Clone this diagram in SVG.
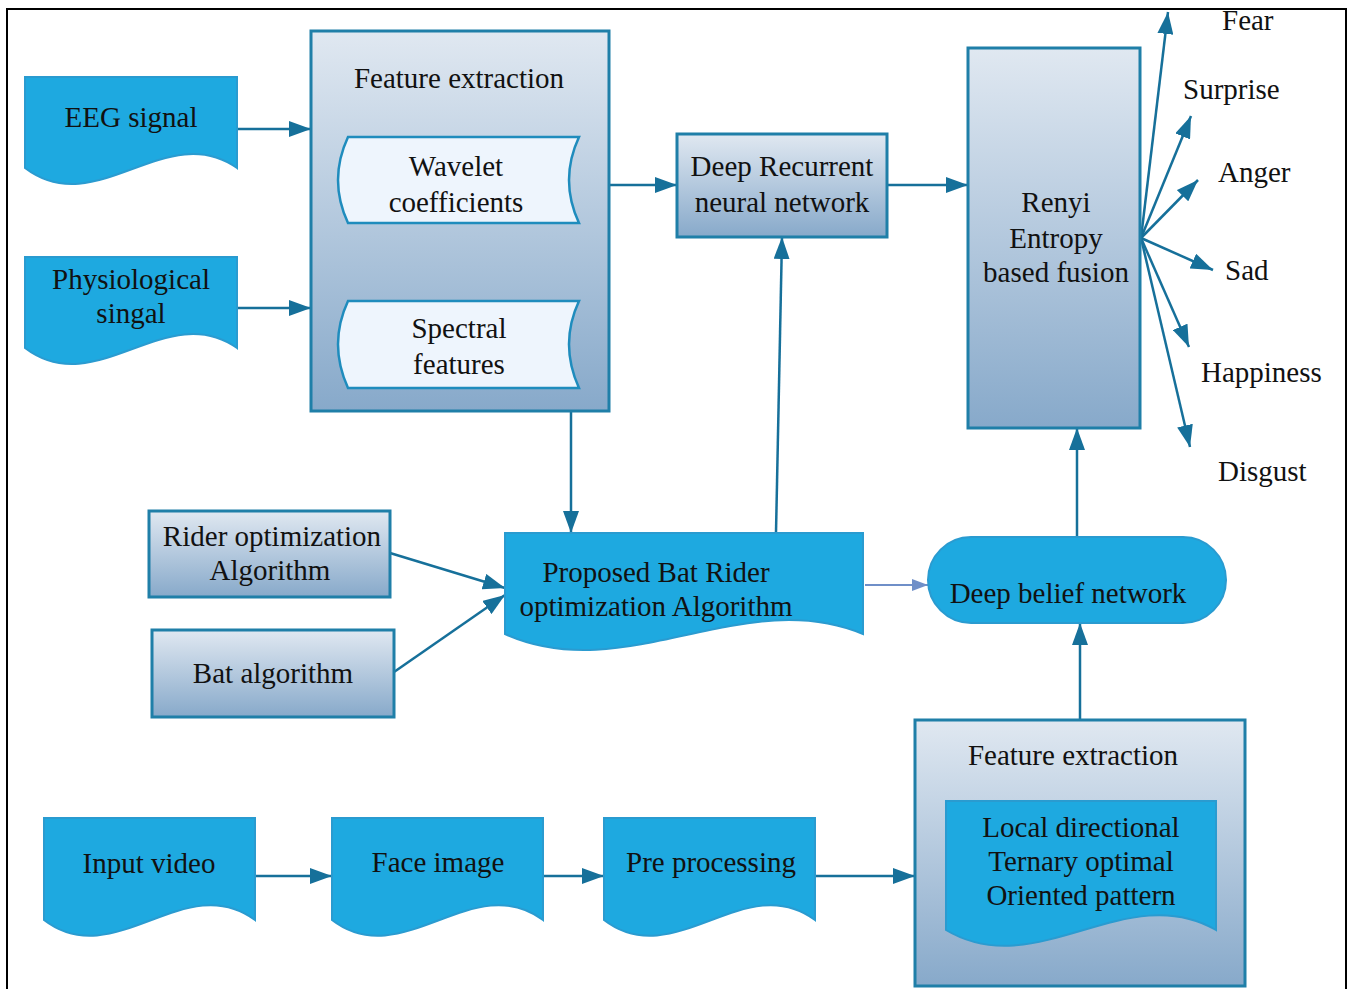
<svg xmlns="http://www.w3.org/2000/svg" width="1351" height="989" viewBox="0 0 1351 989">
<defs>
<linearGradient id="g" x1="0" y1="0" x2="0" y2="1">
<stop offset="0" stop-color="#e0e8f1"/>
<stop offset="1" stop-color="#87a9ca"/>
</linearGradient>
<marker id="ah" markerUnits="userSpaceOnUse" markerWidth="22" markerHeight="16" refX="22" refY="8" orient="auto">
<path d="M0,0 L22,8 L0,16 Z" fill="#16709a"/>
</marker>
<marker id="ahl" markerUnits="userSpaceOnUse" markerWidth="16" markerHeight="12" refX="16" refY="6" orient="auto">
<path d="M0,0 L16,6 L0,12 Z" fill="#6f8fc8"/>
</marker>
<style>
text{font-family:"Liberation Serif","Times New Roman",serif;font-size:29px;fill:#111;text-anchor:middle}
.doc{fill:#1ea9e0;stroke:#2a9bd0;stroke-width:2}
.box{fill:url(#g);stroke:#1f7fa8;stroke-width:3}
.tape{fill:#eef5fd;stroke:#1f8cbd;stroke-width:2.5}
.c{stroke:#16709a;stroke-width:2.5;fill:none;marker-end:url(#ah)}
.em{text-anchor:start}
</style>
</defs>
<rect x="7" y="9" width="1339" height="995" fill="#fff" stroke="#000" stroke-width="2"/>

<g id="connectors">
<line class="c" x1="237" y1="129" x2="311" y2="129"/>
<line class="c" x1="237" y1="308" x2="311" y2="308"/>
<line class="c" x1="609" y1="185" x2="677" y2="185"/>
<line class="c" x1="887" y1="185" x2="968" y2="185"/>
<line class="c" x1="571" y1="411" x2="571" y2="533"/>
<line class="c" x1="776" y1="533" x2="782" y2="237"/>
<line class="c" x1="390" y1="553" x2="505" y2="588"/>
<line class="c" x1="394" y1="672" x2="505" y2="595"/>
<line x1="865" y1="585" x2="928" y2="585" stroke="#6f8fc8" stroke-width="2" marker-end="url(#ahl)"/>
<line class="c" x1="1077" y1="537" x2="1077" y2="428"/>
<line class="c" x1="1080" y1="720" x2="1080" y2="623"/>
<line class="c" x1="255" y1="876" x2="332" y2="876"/>
<line class="c" x1="543" y1="876" x2="604" y2="876"/>
<line class="c" x1="815" y1="876" x2="915" y2="876"/>
<line class="c" x1="1141" y1="238" x2="1168" y2="12"/>
<line class="c" x1="1141" y1="238" x2="1191" y2="116"/>
<line class="c" x1="1141" y1="238" x2="1198" y2="180"/>
<line class="c" x1="1141" y1="238" x2="1213" y2="270"/>
<line class="c" x1="1141" y1="238" x2="1189" y2="347"/>
<line class="c" x1="1141" y1="238" x2="1190" y2="447"/>
</g>

<g id="eeg">
<path class="doc" d="M25,77 H237 V168 C166,118 96,222 25,168 Z"/>
<text x="131" y="127">EEG signal</text>
</g>
<g id="physio">
<path class="doc" d="M25,257 H237 V348 C166,298 96,402 25,348 Z"/>
<text x="131" y="289">Physiological</text>
<text x="131" y="323">singal</text>
</g>

<g id="feature-extraction-top">
<rect class="box" x="311" y="31" width="298" height="380"/>
<text x="459" y="88">Feature extraction</text>
</g>
<g id="wavelet">
<path class="tape" d="M348,137 H579 Q559,180 579,223 H348 Q328,180 348,137 Z"/>
<text x="456" y="176">Wavelet</text>
<text x="456" y="212">coefficients</text>
</g>
<g id="spectral">
<path class="tape" d="M348,301 H579 Q559,344 579,388 H348 Q328,344 348,301 Z"/>
<text x="459" y="338">Spectral</text>
<text x="459" y="374">features</text>
</g>

<g id="drnn">
<rect class="box" x="677" y="134" width="210" height="103"/>
<text x="782" y="176">Deep Recurrent</text>
<text x="782" y="212">neural network</text>
</g>

<g id="renyi">
<rect class="box" x="968" y="48" width="172" height="380"/>
<text x="1056" y="212">Renyi</text>
<text x="1056" y="248">Entropy</text>
<text x="1056" y="282">based fusion</text>
</g>

<g id="emotions">
<text class="em" x="1222" y="30">Fear</text>
<text class="em" x="1183" y="99">Surprise</text>
<text class="em" x="1218" y="182">Anger</text>
<text class="em" x="1225" y="280">Sad</text>
<text class="em" x="1201" y="382">Happiness</text>
<text class="em" x="1218" y="481">Disgust</text>
</g>

<g id="rider">
<rect class="box" x="149" y="511" width="241" height="86" stroke-width="2.5"/>
<text x="272" y="546">Rider optimization</text>
<text x="270" y="580">Algorithm</text>
</g>
<g id="bat">
<rect class="box" x="152" y="630" width="242" height="87" stroke-width="2.5"/>
<text x="273" y="683">Bat algorithm</text>
</g>

<g id="proposed">
<path class="doc" d="M505,533 H863 V634 C743,584 625,688 505,634 Z"/>
<text x="656" y="582">Proposed Bat Rider</text>
<text x="656" y="616">optimization Algorithm</text>
</g>

<g id="dbn">
<rect x="928" y="537" width="298" height="86" rx="43" ry="43" fill="#1ea9e0" stroke="#2a9bd0" stroke-width="2"/>
<text x="1068" y="603">Deep belief network</text>
</g>

<g id="feature-extraction-bottom">
<rect class="box" x="915" y="720" width="330" height="266"/>
<text x="1073" y="765">Feature extraction</text>
</g>
<g id="ldtop">
<path class="doc" d="M946,801 H1216 V930 C1126,878 1036,984 946,930 Z"/>
<text x="1081" y="837">Local directional</text>
<text x="1081" y="871">Ternary optimal</text>
<text x="1081" y="905">Oriented pattern</text>
</g>

<g id="input-video">
<path class="doc" d="M44,818 H255 V920 C185,868 114,974 44,920 Z"/>
<text x="149" y="873">Input video</text>
</g>
<g id="face-image">
<path class="doc" d="M332,818 H543 V920 C473,868 402,974 332,920 Z"/>
<text x="438" y="872">Face image</text>
</g>
<g id="pre-processing">
<path class="doc" d="M604,818 H815 V920 C745,868 674,974 604,920 Z"/>
<text x="711" y="872">Pre processing</text>
</g>
</svg>
